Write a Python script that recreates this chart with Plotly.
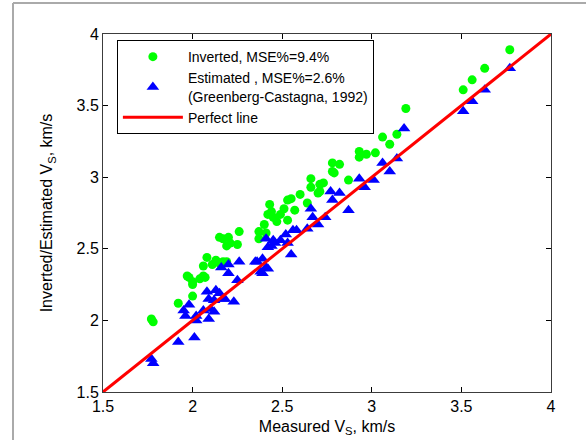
import plotly.graph_objects as go

# Inverted (green circles)
inv_x = [1.77, 1.78, 1.92, 2.00, 1.97, 1.98, 2.00, 2.00, 2.04, 2.06, 2.07,
         2.06, 2.08, 2.11, 2.13, 2.15, 2.17, 2.19,
         2.15, 2.17, 2.20, 2.21, 2.19, 2.25, 2.26,
         2.37, 2.37, 2.41, 2.40, 2.42, 2.45, 2.43, 2.44, 2.47, 2.49, 2.51, 2.53,
         2.53, 2.55, 2.57, 2.60, 2.64, 2.66, 2.66, 2.70, 2.71, 2.73, 2.71,
         2.78, 2.78, 2.79, 2.82, 2.87, 2.93, 2.93, 2.97, 3.02, 3.06, 3.10,
         3.14, 3.19, 3.51, 3.56, 3.63, 3.77]
inv_y = [2.01, 1.99, 2.12, 2.17, 2.31, 2.30, 2.27, 2.25, 2.29, 2.31, 2.30,
         2.38, 2.44, 2.39, 2.42, 2.40, 2.41, 2.41,
         2.58, 2.57, 2.58, 2.54, 2.52, 2.53, 2.62,
         2.62, 2.57, 2.61, 2.67, 2.74, 2.72, 2.81, 2.76, 2.69, 2.74, 2.78, 2.70,
         2.84, 2.85, 2.77, 2.88, 2.82, 2.99, 2.93, 2.89, 2.95, 2.96, 2.90,
         3.10, 3.04, 3.03, 3.09, 2.98, 3.18, 3.14, 3.16, 3.17, 3.28, 3.23,
         3.30, 3.48, 3.61, 3.68, 3.76, 3.89]

# Estimated (blue triangles)
est_x = [1.77, 1.78, 1.92, 2.01, 1.96, 1.98, 2.02, 2.02, 2.09, 2.10, 2.12,
         2.06, 2.08, 2.09, 2.12, 2.13, 2.15, 2.17, 2.18, 2.23, 1.95,
         2.16, 2.20, 2.20, 2.25, 2.26, 2.36, 2.38, 2.42, 2.39, 2.35, 2.39, 2.41,
         2.41, 2.42, 2.44, 2.45, 2.46, 2.49, 2.52, 2.53, 2.55, 2.56, 2.58,
         2.64, 2.66, 2.67, 2.70, 2.74, 2.77, 2.78, 2.82, 2.87, 2.93, 2.96,
         3.01, 3.06, 3.10, 3.14, 3.18, 3.51, 3.56, 3.63, 3.77]
est_y = [1.73, 1.70, 1.85, 1.88, 2.03, 2.11, 2.03, 2.00, 2.01, 2.08, 2.06,
         2.07, 2.20, 2.15, 2.14, 2.21, 2.19, 2.15, 2.15, 2.13, 2.07,
         2.37, 2.39, 2.33, 2.28, 2.41, 2.41, 2.34, 2.36, 2.33, 2.41, 2.43, 2.37,
         2.57, 2.51, 2.52, 2.56, 2.54, 2.56, 2.60, 2.54, 2.46, 2.63, 2.63,
         2.64, 2.78, 2.72, 2.67, 2.72, 2.90, 2.84, 2.89, 2.77, 2.99, 2.93,
         2.98, 3.10, 3.04, 3.13, 3.34, 3.46, 3.53, 3.61, 3.76]

line_x = [1.5, 4.0]
line_y = [1.5, 4.0]

tick_vals = [1.5, 2, 2.5, 3, 3.5, 4]
tick_text = ["1.5", "2", "2.5", "3", "3.5", "4"]

FONT = "Liberation Sans, Arial, sans-serif"

fig = go.Figure()
fig.add_trace(go.Scatter(
    x=inv_x, y=inv_y, mode="markers", name="Inverted, MSE%=9.4%",
    marker=dict(symbol="circle", size=9, color="rgb(0,255,0)", line=dict(width=0))))
fig.add_trace(go.Scatter(
    x=est_x, y=est_y, mode="markers",
    name="Estimated , MSE%=2.6%<br>(Greenberg-Castagna, 1992)",
    marker=dict(symbol="triangle-up", size=11, color="rgb(0,0,255)", line=dict(width=0))))
fig.add_trace(go.Scatter(
    x=line_x, y=line_y, mode="lines", name="Perfect line",
    line=dict(color="rgb(255,0,0)", width=3)))

axis_common = dict(
    range=[1.5, 4], tickvals=tick_vals, ticktext=tick_text,
    ticks="inside", ticklen=5, tickcolor="black", tickwidth=1,
    showline=True, linecolor="rgb(60,60,60)", linewidth=1, mirror="ticks",
    showgrid=False, zeroline=False, automargin=False,
    tickfont=dict(family=FONT, size=16, color="black"),
)

fig.update_layout(
    width=586, height=440,
    margin=dict(l=103, r=35, t=34, b=48, autoexpand=False),
    paper_bgcolor="white", plot_bgcolor="white",
    font=dict(family=FONT, color="black"),
    xaxis=dict(**axis_common,
               title=dict(text="Measured V<sub>S</sub>, km/s",
                          font=dict(family=FONT, size=16), standoff=6)),
    yaxis=dict(**axis_common,
               title=dict(text="Inverted/Estimated V<sub>S</sub>, km/s",
                          font=dict(family=FONT, size=16), standoff=19)),
    legend=dict(x=0.031, y=0.983, xanchor="left", yanchor="top",
                bordercolor="black", borderwidth=1, bgcolor="white",
                font=dict(family=FONT, size=14), itemwidth=60,
                tracegroupgap=0),
    showlegend=True,
    shapes=[
        dict(type="line", xref="paper", yref="paper", x0=-0.2009, x1=-0.2009,
             y0=1.0866, y1=-0.2,
             line=dict(color="rgb(170,170,170)", width=2)),
        dict(type="line", xref="paper", yref="paper", x0=-0.2009, x1=1.2,
             y0=1.0866, y1=1.0866,
             line=dict(color="rgb(170,170,170)", width=2)),
    ],
)

post_js = (
    "document.body.style.margin='0px';"
    "var gd=document.getElementsByClassName('plotly-graph-div')[0];"
    "if(gd){Plotly.relayout(gd,{'shapes[0].visible':true,'shapes[1].visible':true});}"
)

fig.write_html("out.html", config={"displayModeBar": False}, post_script=post_js)
